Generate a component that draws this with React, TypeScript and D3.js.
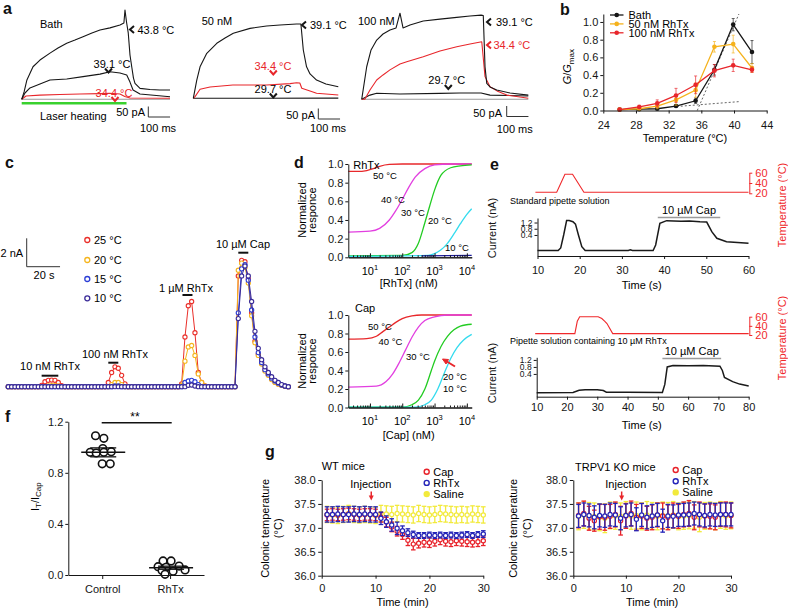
import React, { useEffect, useRef } from 'react';
import * as d3 from 'd3';

const FONT = '"Liberation Sans", Arial, Helvetica, sans-serif';
const RED = '#e8262b';
const BLACK = '#161616';

// ---------- panel a : current traces [ms, pA] ----------
const aBathHot = [[0,0],[11,35],[24,92],[52,155],[84,187],[130,220],[167,244],[207,267],[245,282],[282,298],[323,316],[360,330],[406,340],[452,354],[470,363],[475,425],[482,368],[490,316],[498,211],[506,155],[514,101],[521,76],[544,52],[590,47],[635,44],[682,44]];
const aBathMid = [[0,0],[15,30],[38,54],[84,73],[130,92],[207,97],[282,108],[360,120],[406,131],[452,125],[483,116],[498,82],[512,44],[544,25],[682,12]];
const aBathLow = [[0,0],[20,16],[84,20],[176,23],[268,25],[360,27],[406,29],[452,25],[474,13],[498,6],[682,5]];
const aBathBase = [[0,0],[682,0]];
const a50Hot = [[0,0],[16,87],[31,150],[62,214],[108,262],[146,287],[184,310],[261,333],[337,344],[399,349],[475,354],[495,354],[506,230],[521,150],[537,116],[567,87],[610,68],[667,55]];
const a50Mid = [[0,0],[8,8],[31,43],[77,54],[182,63],[337,63],[445,70],[475,74],[490,73],[499,48],[537,35],[567,24],[667,16]];
const a50Low = [[0,0],[667,1]];
const a100Hot = [[0,0],[23,155],[43,235],[69,282],[98,311],[130,330],[158,340],[176,410],[190,340],[222,354],[283,373],[360,382],[437,390],[498,397],[549,401],[559,399],[567,155],[575,76],[590,59],[621,44],[682,30],[766,20]];
const a100Mid = [[0,0],[15,1],[38,44],[69,92],[98,116],[130,140],[176,168],[207,179],[283,203],[360,230],[437,250],[498,263],[552,274],[567,108],[590,60],[622,40],[667,20],[766,5]];
const a100Low = [[0,0],[38,20],[69,29],[176,25],[360,28],[452,30],[549,30],[590,20],[766,16]];
const a100Base = [[0,0],[766,0]];

// ---------- panel b ----------
const bTemps = [26, 28.4, 30.6, 32.9, 35.3, 37.6, 39.9, 42.2];
const bBath = [0.01, 0.015, 0.02, 0.05, 0.11, 0.46, 0.97, 0.66];
const bBathErr = [0.005, 0.005, 0.01, 0.015, 0.03, 0.06, 0.07, 0.13];
const bRh50 = [0.01, 0.02, 0.05, 0.12, 0.23, 0.72, 0.75, 0.48];
const bRh50Err = [0.005, 0.01, 0.03, 0.06, 0.08, 0.06, 0.1, 0.05];
const bRh100 = [0.01, 0.04, 0.08, 0.17, 0.29, 0.45, 0.51, 0.46];
const bRh100Err = [0.005, 0.02, 0.04, 0.08, 0.1, 0.07, 0.07, 0.03];
const bFitSteep = [[35.5, 0], [40.6, 1.09]];
const bFitFlat = [[33, 0.045], [40.6, 0.1]];

// ---------- panel c : current (nA), one sample every 2 s ----------
const cStep = 2;
const c25 = [
  0,0,0,0,0,0,0,0,0,0,
  0.1,0.35,0.45,0.47,0.45,0.3,0.08,0,0,0,
  0,0,0,0,0,0,0,0,0,0,
  0.3,1.0,1.4,1.3,0.8,0.2,0,0,0,0,
  0,0,0,0,0,0,0,0,0,0,
  0,0,0.2,3.5,5.7,6.0,3.8,1.0,0.3,0.05,
  0,0,0,0,0,0,0,0,0,7.8,
  8.9,8.8,7.6,5.2,3.2,2.3,1.7,1.2,0.85,0.55,
  0.35,0.2,0.1,0.04,0,
];
const c20 = [
  0,0,0,0,0,0,0,0,0,0,
  0,0,0.05,0.08,0.08,0.05,0,0,0,0,
  0,0,0,0,0,0,0,0,0,0,
  0,0.15,0.3,0.3,0.15,0,0,0,0,0,
  0,0,0,0,0,0,0,0,0,0,
  0,0,0.1,1.8,2.8,2.9,2.2,0.9,0.3,0.05,
  0,0,0,0,0,0,0,0,0,8.2,
  8.7,8.4,7.3,5.0,3.1,2.2,1.6,1.1,0.8,0.5,
  0.3,0.18,0.1,0.04,0,
];
const c15 = [
  0,0,0,0,0,0,0,0,0,0,
  0,0,0,0,0,0,0,0,0,0,
  0,0,0,0,0,0,0,0,0,0,
  0,0,0.05,0.05,0,0,0,0,0,0,
  0,0,0,0,0,0,0,0,0,0,
  0,0,0,0.3,0.4,0.45,0.35,0.15,0,0,
  0,0,0,0,0,0,0,0,0,5.2,
  8.3,8.6,7.5,5.4,3.5,2.4,1.7,1.2,0.9,0.6,
  0.4,0.25,0.12,0.05,0,
];
const c10 = [
  0,0,0,0,0,0,0,0,0,0,
  0,0,0,0,0,0,0,0,0,0,
  0,0,0,0,0,0,0,0,0,0,
  0,0,0,0,0,0,0,0,0,0,
  0,0,0,0,0,0,0,0,0,0,
  0,0,0,0,0.1,0.12,0.05,0,0,0,
  0,0,0,0,0,0,0,0,0,4.8,
  7.8,8.5,7.8,6.0,3.9,2.7,1.9,1.4,1.0,0.7,
  0.45,0.3,0.15,0.05,0,
];
const cSeries = [
  { label: '25 °C', color: '#ea2f2a', values: c25 },
  { label: '20 °C', color: '#f5b51e', values: c20 },
  { label: '15 °C', color: '#2c3ed6', values: c15 },
  { label: '10 °C', color: '#3a2b98', values: c10 },
];
const cApps = [
  { label: '10 nM RhTx', t0: 20, t1: 30, lx: 50, ly: 370, by: 375.7 },
  { label: '100 nM RhTx', t0: 60, t1: 66, lx: 115, ly: 357.7, by: 362.7 },
  { label: '1 µM RhTx', t0: 104.5, t1: 110.5, lx: 186, ly: 291.7, by: 295 },
  { label: '10 µM Cap', t0: 138, t1: 144, lx: 243, ly: 248.3, by: 252.7 },
];

// ---------- panel d : log10 [agonist] (nM) vs normalized response ----------
const dRhTx = [
  { label: '50 °C', color: '#e8282b', pts: [[0.33,0.92],[0.6,0.92],[0.9,0.93],[1.1,0.95],[1.3,0.975],[1.6,0.995],[2,1],[4.15,1]] },
  { label: '40 °C', color: '#e23fe0', pts: [[0.33,0.27],[1.0,0.28],[1.3,0.31],[1.6,0.4],[1.8,0.5],[2.0,0.62],[2.2,0.75],[2.4,0.86],[2.7,0.95],[3.0,0.99],[3.5,1],[4.15,1]] },
  { label: '30 °C', color: '#22cc22', pts: [[0.33,0.015],[2.0,0.02],[2.3,0.05],[2.5,0.15],[2.7,0.37],[2.85,0.55],[3.0,0.72],[3.2,0.88],[3.5,0.96],[3.8,0.98],[4.15,0.99]] },
  { label: '20 °C', color: '#33dbee', pts: [[0.33,0.01],[2.8,0.02],[3.0,0.04],[3.2,0.08],[3.4,0.15],[3.6,0.25],[3.8,0.36],[4.0,0.46],[4.15,0.52]] },
  { label: '10 °C', color: '#1c1c9c', pts: [[2.6,0.015],[4.15,0.02]] },
];
const dCap = [
  { label: '50 °C', color: '#e8282b', pts: [[0.33,0.74],[0.9,0.745],[1.2,0.77],[1.4,0.82],[1.6,0.87],[1.8,0.92],[2.0,0.96],[2.3,0.99],[2.6,1],[4.15,1]] },
  { label: '40 °C', color: '#e23fe0', pts: [[0.33,0.22],[1.2,0.23],[1.5,0.28],[1.7,0.36],[1.9,0.48],[2.1,0.62],[2.3,0.76],[2.5,0.87],[2.7,0.94],[3.0,0.98],[3.4,1],[4.15,1]] },
  { label: '30 °C', color: '#22cc22', pts: [[0.33,0.003],[2.0,0.005],[2.3,0.03],[2.5,0.08],[2.7,0.2],[2.9,0.4],[3.0,0.5],[3.2,0.66],[3.4,0.77],[3.6,0.84],[3.8,0.88],[4.15,0.9]] },
  { label: '20 °C', color: '#33dbee', pts: [[0.33,0.003],[2.4,0.005],[2.7,0.03],[2.9,0.08],[3.1,0.2],[3.3,0.37],[3.5,0.53],[3.7,0.65],[3.9,0.73],[4.15,0.79]] },
];
const dRhTxLabels = [[385, 179, '50 °C'], [393, 202.5, '40 °C'], [413, 216, '30 °C'], [440, 224, '20 °C'], [457, 251, '10 °C']];
const dCapLabels = [[380, 329.5, '50 °C'], [390.5, 345, '40 °C'], [418, 359.5, '30 °C'], [455, 379.5, '20 °C'], [455, 392, '10 °C']];
const dDecades = [1, 2, 3, 4];

// ---------- panel e : [s, nA] and [s, °C] ----------
const eCur1 = [[10,-0.6],[14.9,-0.6],[15.5,-0.43],[16.2,0.4],[16.9,1.33],[17.5,1.33],[18.4,1.25],[19,1.1],[19.7,0.4],[20.5,-0.35],[21.3,-0.6],[31.5,-0.59],[32,-0.55],[32.5,-0.59],[37.4,-0.6],[38,-0.24],[39,1.15],[40.6,1.32],[44,1.28],[46,1.3],[48.5,1.25],[50.1,1.23],[51.3,0.61],[52.5,0.19],[54.8,-0.03],[60,-0.13]];
const eTemp1 = [[9.5,22],[14.55,22],[16.5,57],[18.3,57],[21,22],[60,22]];
const eCur2 = [[10,-0.67],[22,-0.66],[24,-0.53],[26,-0.5],[30,-0.5],[32,-0.55],[33,-0.64],[40,-0.65],[51.5,-0.66],[52.3,-0.2],[53.1,0.8],[55,0.88],[60,0.87],[65,0.88],[70.5,0.84],[71.3,0.6],[72,0.2],[74.7,-0.04],[77,-0.18],[80,-0.29]];
const eTemp2 = [[9.5,23],[22.6,23],[23.4,50],[24.2,60],[30.3,60],[31.5,56],[32.5,50],[33.2,45],[35.1,23],[80,23]];

// ---------- panel f ----------
const fCats = ['Control', 'RhTx'];
const fControl = [1.09, 1.07, 0.99, 0.96, 0.955, 0.96, 0.965, 0.87, 0.87];
const fControlJit = [-6.7, 1.6, 0.6, -12, -6, 1.6, 9, 0, 8];
const fRhTx = [0.11, 0.11, 0.065, 0.06, 0.07, 0.035, 0.03, 0.04, 0.005];
const fRhTxJit = [-7, 1, -12, -4, 9, -8, 3, 15, -5];
const fMean = [0.96, 0.057];
const fSem = [0.035, 0.012];

// ---------- panel g : colonic temperature (°C), minutes 1..30 ----------
const gMinutes = d3.range(1, 31);
const gWtCap = [37.27,37.28,37.27,37.28,37.29,37.28,37.27,37.28,37.28,37.27,37.22,37.12,37.02,36.93,36.86,36.74,36.66,36.68,36.7,36.69,36.72,36.75,36.72,36.71,36.73,36.72,36.71,36.7,36.71,36.73];
const gWtCapErr = [0.12,0.12,0.12,0.12,0.12,0.12,0.12,0.12,0.12,0.12,0.1,0.1,0.1,0.1,0.1,0.11,0.12,0.1,0.1,0.1,0.1,0.1,0.1,0.1,0.1,0.1,0.1,0.1,0.1,0.1];
const gWtRhTx = [37.28,37.28,37.29,37.28,37.28,37.29,37.28,37.29,37.28,37.28,37.2,37.13,37.06,36.99,36.94,36.9,36.86,36.84,36.84,36.85,36.84,36.85,36.84,36.85,36.84,36.85,36.86,36.84,36.86,36.87];
const gWtRhTxErr = [0.16,0.16,0.16,0.16,0.16,0.16,0.16,0.16,0.16,0.16,0.13,0.12,0.13,0.13,0.1,0.08,0.07,0.06,0.06,0.06,0.06,0.06,0.06,0.06,0.06,0.06,0.06,0.06,0.06,0.07];
const gWtSaline = [37.28,37.27,37.26,37.28,37.3,37.28,37.27,37.28,37.27,37.26,37.3,37.29,37.28,37.3,37.29,37.28,37.27,37.3,37.28,37.27,37.28,37.3,37.29,37.28,37.27,37.28,37.27,37.29,37.28,37.27];
const gWtSalineErr = [0.17,0.17,0.17,0.17,0.17,0.17,0.17,0.17,0.17,0.17,0.17,0.17,0.17,0.17,0.17,0.17,0.17,0.17,0.17,0.17,0.17,0.17,0.17,0.17,0.17,0.17,0.17,0.17,0.17,0.17];
const gKoCap = [37.26,37.3,37.2,37.15,37.23,37.22,37.24,37.28,37.15,37.25,37.3,37.22,37.25,37.2,37.22,37.27,37.25,37.22,37.26,37.24,37.28,37.3,37.22,37.28,37.25,37.24,37.22,37.28,37.28,37.26];
const gKoCapErr = [0.26,0.26,0.25,0.22,0.26,0.27,0.25,0.26,0.3,0.26,0.26,0.27,0.26,0.25,0.26,0.25,0.27,0.26,0.26,0.25,0.26,0.27,0.26,0.26,0.25,0.26,0.26,0.25,0.26,0.26];
const gKoRhTx = [37.25,37.28,37.26,37.22,37.26,37.25,37.28,37.27,37.2,37.26,37.28,37.18,37.27,37.22,37.25,37.27,37.15,37.25,37.24,37.27,37.27,37.28,37.3,37.28,37.26,37.28,37.27,37.28,37.28,37.28];
const gKoRhTxErr = [0.24,0.24,0.24,0.24,0.24,0.24,0.24,0.24,0.24,0.24,0.24,0.24,0.24,0.24,0.24,0.24,0.24,0.24,0.24,0.24,0.24,0.24,0.24,0.24,0.24,0.24,0.24,0.24,0.24,0.24];
const gKoSaline = [37.24,37.27,37.25,37.24,37.22,37.2,37.26,37.25,37.24,37.27,37.25,37.26,37.24,37.27,37.25,37.24,37.26,37.25,37.27,37.24,37.25,37.26,37.27,37.22,37.25,37.26,37.24,37.27,37.25,37.26];
const gKoSalineErr = [0.28,0.28,0.28,0.28,0.28,0.3,0.28,0.28,0.28,0.28,0.28,0.28,0.28,0.28,0.28,0.28,0.28,0.28,0.28,0.28,0.28,0.28,0.28,0.3,0.28,0.28,0.28,0.28,0.28,0.28];
const gLegend = ['Cap', 'RhTx', 'Saline'];

// ---------- helpers ----------
type AxisProps = {
  scale: any; orient: 'left' | 'right' | 'bottom'; x?: number; y?: number;
  values?: number[] | string[]; format?: (d: any) => string; size?: number; pad?: number;
  fs?: number; color?: string;
};

function Axis({ scale, orient, x = 0, y = 0, values, format, size = 3, pad = 2, fs = 11, color = BLACK }: AxisProps) {
  const ref = useRef<SVGGElement>(null);
  useEffect(() => {
    const make = orient === 'left' ? d3.axisLeft : orient === 'right' ? d3.axisRight : d3.axisBottom;
    const ax: any = make(scale).tickSizeOuter(0).tickSizeInner(size).tickPadding(pad);
    if (values) ax.tickValues(values);
    if (format) ax.tickFormat(format);
    const g = d3.select(ref.current as SVGGElement);
    g.call(ax);
    g.attr('font-family', FONT).attr('font-size', fs);
    g.selectAll('path, line').attr('stroke', color).attr('stroke-width', 1);
    g.selectAll('text').attr('fill', color);
  });
  return <g ref={ref} transform={`translate(${x},${y})`} />;
}

const line = (xs: any, ys: any, data: number[][], curve: any = d3.curveLinear) =>
  d3.line<number[]>().x(p => xs(p[0])).y(p => ys(p[1])).curve(curve)(data) || '';

const ChevLeft = ({ x, y, c = BLACK }: { x: number; y: number; c?: string }) => (
  <path d={`M${x + 4},${y - 3.5}L${x},${y}L${x + 4},${y + 3.5}`} fill="none" stroke={c} strokeWidth={2} />
);
const ChevDown = ({ x, y, c = BLACK }: { x: number; y: number; c?: string }) => (
  <path d={`M${x - 3.5},${y - 3}L${x},${y + 1}L${x + 3.5},${y - 3}`} fill="none" stroke={c} strokeWidth={2} />
);

const Letter = ({ x, y, t }: { x: number; y: number; t: string }) => (
  <text x={x} y={y} fontSize={16} fontWeight="bold" fill="#111">{t}</text>
);

const VLabel = ({ cx, cy, children, fs = 11, color = BLACK }: any) => (
  <text transform={`translate(${cx + fs * 0.35},${cy}) rotate(-90)`} textAnchor="middle" fontSize={fs} fill={color}>{children}</text>
);

// ---------- panels ----------
function PanelA() {
  const yA = (y0: number) => d3.scaleLinear().domain([0, 50]).range([y0, y0 - 10.5]);
  const subs = [
    { xs: d3.scaleLinear().domain([0, 682]).range([21.7, 170]), ys: yA(99.3), traces: [[aBathBase, '#9a9a9a'], [aBathLow, RED], [aBathMid, BLACK], [aBathHot, BLACK]] },
    { xs: d3.scaleLinear().domain([0, 667]).range([193.3, 338.3]), ys: yA(98.3), traces: [[a50Low, BLACK], [a50Mid, RED], [a50Hot, BLACK]] },
    { xs: d3.scaleLinear().domain([0, 766]).range([361.7, 528.3]), ys: yA(99.3), traces: [[a100Base, '#9a9a9a'], [a100Low, BLACK], [a100Mid, RED], [a100Hot, BLACK]] },
  ];
  const bars = [[148.3, 106.5, 145, 116, 140, 132], [318.3, 108.5, 315, 118.5, 310, 131.5], [506.7, 106, 502, 117, 496.7, 133]];
  return (
    <g fontSize={11}>
      <Letter x={3} y={13.5} t="a" />
      {subs.map((s, i) => (
        <g key={i}>
          {s.traces.map(([d, c]: any, j) => (
            <path key={j} d={line(s.xs, s.ys, d)} fill="none" stroke={c} strokeWidth={1.1} strokeLinejoin="round" />
          ))}
        </g>
      ))}
      {bars.map(([bx, by, tx, ty, mx, my], i) => {
        const h = subs[i].ys(0) - subs[i].ys(50);
        const w = subs[i].xs(100) - subs[i].xs(0);
        return (
          <g key={i}>
            <path d={`M${bx},${by}V${by + h}H${bx + w}`} fill="none" stroke="#333" strokeWidth={1} />
            <text x={tx} y={ty} textAnchor="end">50 pA</text>
            <text x={mx} y={my}>100 ms</text>
          </g>
        );
      })}
      <line x1={subs[0].xs(0)} x2={subs[0].xs(482)} y1={103.3} y2={103.3} stroke="#39d12e" strokeWidth={2.5} />
      <text x={40} y={120}>Laser heating</text>
      <text x={40} y={28}>Bath</text>
      <ChevLeft x={130} y={29.5} />
      <text x={137.5} y={33.5}>43.8 °C</text>
      <text x={112} y={68} textAnchor="middle">39.1 °C</text>
      <ChevDown x={108.5} y={71.5} />
      <text x={114} y={96.5} textAnchor="middle" fill={RED}>34.4 °C</text>
      <ChevDown x={115} y={100} c={RED} />

      <text x={201.7} y={25}>50 nM</text>
      <ChevLeft x={302} y={25} />
      <text x={310} y={29}>39.1 °C</text>
      <text x={273} y={70} textAnchor="middle" fill={RED}>34.4 °C</text>
      <ChevDown x={273.3} y={73.5} c={RED} />
      <text x={273} y={93} textAnchor="middle">29.7 °C</text>
      <ChevDown x={273.3} y={96.5} />

      <text x={358} y={25}>100 nM</text>
      <ChevLeft x={487} y={22} />
      <text x={496} y={26}>39.1 °C</text>
      <ChevLeft x={487} y={45} c={RED} />
      <text x={493.5} y={49} fill={RED}>34.4 °C</text>
      <text x={446.7} y={84} textAnchor="middle">29.7 °C</text>
      <ChevDown x={448.3} y={88} />
    </g>
  );
}

function PanelB() {
  const x = d3.scaleLinear().domain([24, 44]).range([603.3, 766.7]);
  const y = d3.scaleLinear().domain([0, 1.09]).range([110.5, 14]);
  const series = [
    { name: 'Bath', color: BLACK, v: bBath, e: bBathErr },
    { name: '50 nM RhTx', color: '#f5b21c', v: bRh50, e: bRh50Err },
    { name: '100 nM RhTx', color: '#e8262b', v: bRh100, e: bRh100Err },
  ];
  return (
    <g fontSize={11}>
      <Letter x={560} y={15} t="b" />
      {[bFitSteep, bFitFlat].map((d, i) => (
        <path key={i} d={line(x, y, d)} stroke="#666" strokeWidth={1} strokeDasharray="2,2" fill="none" />
      ))}
      {series.map((s, si) => {
        const pts = bTemps.map((t, i) => [t, s.v[i]]);
        return (
          <g key={si}>
            {bTemps.map((t, i) => (
              <g key={i} stroke={s.color} strokeWidth={0.8} opacity={0.85}>
                <line x1={x(t)} x2={x(t)} y1={y(s.v[i] - s.e[i])} y2={y(s.v[i] + s.e[i])} />
                <line x1={x(t) - 1.5} x2={x(t) + 1.5} y1={y(s.v[i] + s.e[i])} y2={y(s.v[i] + s.e[i])} />
                <line x1={x(t) - 1.5} x2={x(t) + 1.5} y1={y(s.v[i] - s.e[i])} y2={y(s.v[i] - s.e[i])} />
              </g>
            ))}
            <path d={line(x, y, pts)} fill="none" stroke={s.color} strokeWidth={1.3} />
            {pts.map((p, i) => <circle key={i} cx={x(p[0])} cy={y(p[1])} r={2.3} fill={s.color} />)}
            <line x1={610} x2={623.5} y1={15 + si * 8.9} y2={15 + si * 8.9} stroke={s.color} strokeWidth={1.3} />
            <circle cx={616.7} cy={15 + si * 8.9} r={2.3} fill={s.color} />
            <text x={628.5} y={15 + si * 8.9 + 3.8}>{s.name}</text>
          </g>
        );
      })}
      <Axis scale={y} orient="left" x={603.3} values={[0, 0.2, 0.4, 0.6, 0.8, 1.0]} format={d3.format('.1f')} pad={2} />
      <Axis scale={x} orient="bottom" y={110.5} values={[24, 28, 32, 36, 40, 44]} pad={7.5} />
      <text x={685} y={142} textAnchor="middle">Temperature (°C)</text>
      <text transform="translate(570.5,66.7) rotate(-90)" textAnchor="middle">
        <tspan fontStyle="italic">G</tspan>/<tspan fontStyle="italic">G</tspan>
        <tspan fontSize={8} dy={3}>max</tspan>
      </text>
    </g>
  );
}

function PanelC() {
  const x = d3.scaleLinear().domain([0, 168]).range([8.3, 288.3]);
  const y = d3.scaleLinear().domain([0, 10]).range([386.7, 244.7]);
  const barTop = 266.7 - (y(0) - y(2));
  return (
    <g fontSize={11}>
      <Letter x={5} y={168.3} t="c" />
      {cSeries.map((s, si) => {
        const pts = s.values.map((v, i) => [i * cStep, v]);
        return (
          <g key={si}>
            <path d={line(x, y, pts)} fill="none" stroke={s.color} strokeWidth={1} />
            {pts.map((p, i) => (
              <circle key={i} cx={x(p[0])} cy={y(p[1])} r={2.1} fill="#fff" stroke={s.color} strokeWidth={1.1} />
            ))}
          </g>
        );
      })}
      {cApps.map((a, i) => (
        <g key={i}>
          <line x1={x(a.t0)} x2={x(a.t1)} y1={a.by} y2={a.by} stroke="#111" strokeWidth={2} />
          <text x={a.lx} y={a.ly} textAnchor="middle">{a.label}</text>
        </g>
      ))}
      {cSeries.map((s, i) => (
        <g key={i}>
          <circle cx={87.3} cy={[240, 260, 279, 298.3][i]} r={2.5} fill="#fff" stroke={s.color} strokeWidth={1.3} />
          <text x={94} y={[240, 260, 279, 298.3][i] + 4}>{s.label}</text>
        </g>
      ))}
      <path d={`M26.7,${barTop}V266.7H${26.7 + x(20) - x(0)}`} fill="none" stroke="#333" strokeWidth={1} />
      <text x={0.5} y={257}>2 nA</text>
      <text x={44} y={278.5} textAnchor="middle">20 s</text>
    </g>
  );
}

function LogPlot({ yTop, yBot, curves, labels, title, titleY, xTitle, xTitleY, cy }: any) {
  const x = d3.scaleLog().domain([10 ** 0.33, 10 ** 4.15]).range([348.3, 471.7]);
  const y = d3.scaleLinear().domain([0, 1]).range([yBot, yTop]);
  const minors: number[] = [];
  [0, 1, 2, 3, 4].forEach(k => [2, 3, 4, 5, 6, 7, 8, 9].forEach(m => {
    const v = m * 10 ** k;
    if (v > 10 ** 0.33 && v < 10 ** 4.15) minors.push(v);
  }));
  return (
    <g fontSize={11}>
      {curves.map((c: any, i: number) => (
        <path key={i} d={line((l: number) => x(10 ** l), y, c.pts, d3.curveMonotoneX)} fill="none" stroke={c.color} strokeWidth={1.3} />
      ))}
      {labels.map((l: any, i: number) => (
        <text key={i} x={l[0]} y={l[1]} fontSize={9.5} textAnchor="middle">{l[2]}</text>
      ))}
      <Axis scale={y} orient="left" x={348.3} values={[0, 0.2, 0.4, 0.6, 0.8, 1.0]} format={d3.format('.1f')} />
      <Axis scale={x} orient="bottom" y={yBot} values={minors} format={() => ''} size={-2} />
      <Axis scale={x} orient="bottom" y={yBot} values={dDecades.map(k => 10 ** k)} format={() => ''} size={-4} />
      {dDecades.map(k => (
        <text key={k} x={x(10 ** k)} y={yBot + 17.3} textAnchor="middle">
          10<tspan fontSize={7.5} dy={-4.5}>{k}</tspan>
        </text>
      ))}
      <text x={title === 'RhTx' ? 353.3 : 355} y={titleY}>{title}</text>
      <text x={x(10 ** 2.2)} y={xTitleY} textAnchor="middle">{xTitle}</text>
      <text transform={`translate(${305.5},${cy}) rotate(-90)`} textAnchor="middle">Normalized</text>
      <text transform={`translate(${315.5},${cy}) rotate(-90)`} textAnchor="middle">responce</text>
    </g>
  );
}

function PanelD() {
  return (
    <g>
      <Letter x={294} y={168.3} t="d" />
      <LogPlot yTop={164} yBot={257.3} curves={dRhTx} labels={dRhTxLabels} title="RhTx" titleY={169.3} xTitle="[RhTx] (nM)" xTitleY={287} cy={210} />
      <LogPlot yTop={315} yBot={407.5} curves={dCap} labels={dCapLabels} title="Cap" titleY={311.7} xTitle="[Cap] (nM)" xTitleY={439} cy={361} />
      <line x1={455} y1={366.5} x2={446} y2={361} stroke={RED} strokeWidth={2} />
      <path d="M442.5,359 L448.5,359.5 L446,364 Z" fill={RED} stroke={RED} strokeWidth={1} />
    </g>
  );
}

function PanelE() {
  const rows = [
    { x: d3.scaleLinear().domain([10, 60]).range([537.5, 748.5]), y: d3.scaleLinear().domain([-0.95, 1.49]).range([256, 218]), t: d3.scaleLinear().domain([20, 60]).range([193.3, 172.7]),
      cur: eCur1, temp: eTemp1, ticks: [10, 20, 30, 40, 50, 60], pad: 7, note: 'Standard pipette solution', noteY: 204, cap: [38.5, 53.3], capY: 217.5, capText: 214.3, titleY: 289, curY: 228, tempY: 205 },
    { x: d3.scaleLinear().domain([10, 80]).range([536.7, 748.7]), y: d3.scaleLinear().domain([-0.9, 1.35]).range([396.7, 357.3]), t: d3.scaleLinear().domain([20, 60]).range([335, 316.7]),
      cur: eCur2, temp: eTemp2, ticks: [10, 20, 30, 40, 50, 60, 70, 80], pad: 4, note: 'Pipette solution containing 10 µM RhTx', noteY: 343.5, cap: [51.5, 70.9], capY: 358.5, capText: 355, titleY: 429, curY: 373, tempY: 338 },
  ];
  return (
    <g fontSize={11}>
      <Letter x={490} y={170} t="e" />
      {rows.map((r, i) => (
        <g key={i}>
          <path d={line(r.x, r.t, r.temp)} fill="none" stroke="#f0282b" strokeWidth={1.1} />
          <path d={line(r.x, r.y, r.cur)} fill="none" stroke="#1a1a1a" strokeWidth={1.5} />
          <Axis scale={r.t} orient="right" x={749.3} values={[20, 40, 60]} color="#f0282b" pad={3} />
          <Axis scale={r.y} orient="left" x={r.x.range()[0]} values={[0.4, 0.8, 1.2]} format={d3.format('.1f')} fs={8.5} pad={2} />
          <Axis scale={r.x} orient="bottom" y={r.y.range()[0]} values={r.ticks} pad={r.pad} />
          <text x={510} y={r.noteY} fontSize={9}>{r.note}</text>
          <line x1={r.x(r.cap[0])} x2={r.x(r.cap[1])} y1={r.capY} y2={r.capY} stroke="#9a9a9a" strokeWidth={1.5} />
          <text x={r.x((r.cap[0] + r.cap[1]) / 2)} y={r.capText} textAnchor="middle">10 µM Cap</text>
          <text x={641.7} y={r.titleY} textAnchor="middle">Time (s)</text>
          <VLabel cx={491.7} cy={r.curY}>Current (nA)</VLabel>
          <VLabel cx={781.7} cy={r.tempY} color="#f0282b">Temperature (°C)</VLabel>
        </g>
      ))}
    </g>
  );
}

function PanelF() {
  const x = d3.scalePoint<string>().domain(fCats).range([68.3, 204]).padding(0.5);
  const y = d3.scaleLinear().domain([0, 1.2]).range([575, 421.7]);
  const groups = [[fControl, fControlJit], [fRhTx, fRhTxJit]];
  return (
    <g fontSize={11}>
      <Letter x={5} y={421.7} t="f" />
      {groups.map(([vals, jit], gi) => {
        const cx = x(fCats[gi]) as number;
        return (
          <g key={gi}>
            {vals.map((v, i) => (
              <circle key={i} cx={cx + jit[i]} cy={y(v)} r={3.8} fill="#fff" stroke="#111" strokeWidth={1.6} />
            ))}
            <line x1={cx - 21} x2={cx + 23} y1={y(fMean[gi])} y2={y(fMean[gi])} stroke="#111" strokeWidth={1.5} />
            <line x1={cx - 12} x2={cx + 14} y1={y(fMean[gi] + fSem[gi])} y2={y(fMean[gi] + fSem[gi])} stroke="#111" strokeWidth={1.3} />
            <line x1={cx - 12} x2={cx + 14} y1={y(fMean[gi] - fSem[gi])} y2={y(fMean[gi] - fSem[gi])} stroke="#111" strokeWidth={1.3} />
          </g>
        );
      })}
      <Axis scale={y} orient="left" x={68.3} values={[0, 0.4, 0.8, 1.2]} format={d3.format('.1f')} size={3} pad={2} />
      <Axis scale={x} orient="bottom" y={575} size={4} pad={6} />
      <line x1={101.7} x2={171.7} y1={422.7} y2={422.7} stroke="#111" strokeWidth={1.5} />
      <text x={135} y={420.5} textAnchor="middle" fontSize={12}>**</text>
      <text transform="translate(38.8,496.7) rotate(-90)" textAnchor="middle">
        I<tspan fontSize={8} dy={2.5}>T</tspan><tspan dy={-2.5}>/I</tspan><tspan fontSize={8} dy={2.5}>Cap</tspan>
      </text>
    </g>
  );
}

function TempPlot({ x0, x1, title, tx, ty, leg, inj, ylx, series }: any) {
  const x = d3.scaleLinear().domain([0, 30]).range([x0, x1]);
  const y = d3.scaleLinear().domain([36, 38]).range([575.7, 480]);
  const byName: any = {};
  series.forEach((s: any) => { byName[s.name] = s; });
  return (
    <g fontSize={11}>
      {series.map((s: any, si: number) => (
        <g key={si}>
          {gMinutes.map((m, i) => {
            const px = x(m), lo = y(s.v[i] - s.e[i]), hi = y(s.v[i] + s.e[i]);
            return (
              <g key={i} stroke={s.color} strokeWidth={1.3}>
                <line x1={px} x2={px} y1={lo} y2={hi} />
                <line x1={px - 2.3} x2={px + 2.3} y1={lo} y2={lo} />
                <line x1={px - 2.3} x2={px + 2.3} y1={hi} y2={hi} />
              </g>
            );
          })}
          {gMinutes.map((m, i) => (
            <circle key={i} cx={x(m)} cy={y(s.v[i])} r={2.1} fill="#fff" stroke={s.color} strokeWidth={1.2} />
          ))}
        </g>
      ))}
      <Axis scale={y} orient="left" x={x0} values={[36, 36.5, 37, 37.5, 38]} format={d3.format('.1f')} size={3.5} pad={2.5} />
      <Axis scale={x} orient="bottom" y={575.7} values={[0, 10, 20, 30]} size={3} pad={5.5} />
      <text x={tx} y={ty}>{title}</text>
      <text x={(x0 + x1) / 2} y={606} textAnchor="middle">Time (min)</text>
      <text transform={`translate(${ylx + 3.9},528.3) rotate(-90)`} textAnchor="middle">Colonic temperature</text>
      <text transform={`translate(${ylx + 17.2},528.3) rotate(-90)`} textAnchor="middle">(°C)</text>
      {gLegend.map((n, i) => {
        const s = byName[n];
        return (
          <g key={n}>
            <circle cx={leg[0]} cy={leg[1] + i * 11.2} r={2.5} fill={n === 'Saline' ? s.color : '#fff'} stroke={s.color} strokeWidth={1.4} />
            <text x={leg[0] + 6.5} y={leg[1] + i * 11.2 + 4}>{n}</text>
          </g>
        );
      })}
      <text x={inj} y={488.3} textAnchor="middle">Injection</text>
      <line x1={x(9.2)} x2={x(9.2)} y1={491.5} y2={496} stroke={RED} strokeWidth={1.5} />
      <path d={`M${x(9.2) - 2.5},495.5L${x(9.2) + 2.5},495.5L${x(9.2)},500.5Z`} fill={RED} />
    </g>
  );
}

function PanelG() {
  const col = { cap: '#e8222a', rh: '#2424b8', sal: '#f2ea3c' };
  return (
    <g>
      <Letter x={265} y={457} t="g" />
      <TempPlot x0={321.7} x1={483.3} title="WT mice" tx={321.7} ty={470} leg={[426.7, 471.7]} inj={370.8} ylx={265}
        series={[
          { name: 'Saline', color: col.sal, v: gWtSaline, e: gWtSalineErr },
          { name: 'Cap', color: col.cap, v: gWtCap, e: gWtCapErr },
          { name: 'RhTx', color: col.rh, v: gWtRhTx, e: gWtRhTxErr },
        ]} />
      <TempPlot x0={573.3} x1={731} title="TRPV1 KO mice" tx={575} ty={470.7} leg={[675.7, 470]} inj={625.8} ylx={513.3}
        series={[
          { name: 'Saline', color: col.sal, v: gKoSaline, e: gKoSalineErr },
          { name: 'Cap', color: col.cap, v: gKoCap, e: gKoCapErr },
          { name: 'RhTx', color: col.rh, v: gKoRhTx, e: gKoRhTxErr },
        ]} />
    </g>
  );
}

export default function App() {
  return (
    <svg width={788} height={608} style={{ position: 'absolute', left: 0, top: 0 }} fontFamily={FONT}>
      <rect width={788} height={608} fill="#fff" />
      <PanelA />
      <PanelB />
      <PanelC />
      <PanelD />
      <PanelE />
      <PanelF />
      <PanelG />
    </svg>
  );
}
